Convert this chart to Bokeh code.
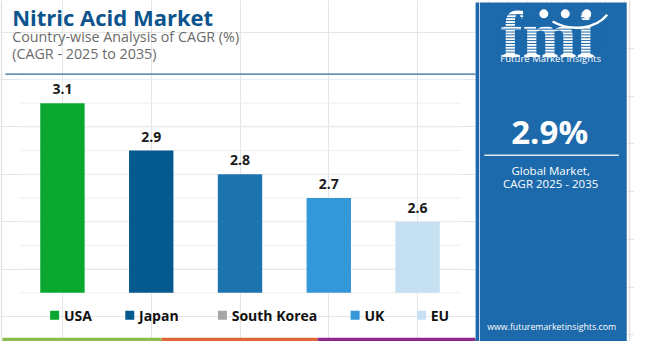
from bokeh.plotting import figure
from bokeh.models import Range1d, FactorRange, ColumnDataSource
from bokeh.layouts import row
from bokeh.embed import file_html
from bokeh.resources import INLINE
from bokeh.core.properties import value

# ---------------- data ----------------
TITLE = "Nitric Acid Market"
SUBTITLE_1 = "Country-wise Analysis of CAGR (%)"
SUBTITLE_2 = "(CAGR - 2025 to 2035)"
countries = ["USA", "Japan", "South Korea", "UK", "EU"]
cagr = [3.1, 2.9, 2.8, 2.7, 2.6]
value_labels = ["3.1", "2.9", "2.8", "2.7", "2.6"]
bar_colors = ["#0aa831", "#04598f", "#1d73ae", "#3497d7", "#c4e0f1"]
legend_colors = ["#0aa831", "#04598f", "#a6a6a6", "#3497d7", "#c4e0f1"]
grid_ticks = [2.3, 2.4, 2.5, 2.6, 2.7, 2.8, 2.9, 3.0, 3.1, 3.2]
Y_BASE = 2.3          # value at which the value axis (bar baseline) starts
GLOBAL_CAGR = "2.9%"
PANEL_LINE_1 = "Global Market,"
PANEL_LINE_2 = "CAGR 2025 - 2035"
BRAND_LOGO = "fmi"
BRAND = "Future Market Insights"
URL = "www.futuremarketinsights.com"

# ---------------- layout / style ----------------
FONT = "Open Sans"
TITLE_COLOR = "#0d548e"
PANEL = "#1c69ab"
W_LEFT, W_RIGHT, H = 479, 155, 341          # px on the page
REF_SPLIT, REF_W, REF_H = 491, 650, 357     # layout coordinates (reference pixels)
CAT_STEP, CAT_PAD = 91, 18                  # category band width / outer padding (layout units)
PX_PER_UNIT = 248.1                         # layout px per 1.0 of CAGR
BASE_Y = 306                                # layout y of the value-axis baseline
LEGEND_SWATCH_X = [55.5, 132.5, 227.5, 363.5, 431.5]
LEGEND_Y = 329.5


def lx(rx):
    """layout x -> synthetic coordinate of the categorical x range"""
    return (rx - CAT_PAD) / CAT_STEP


def ly(ry):
    """layout y -> value coordinate"""
    return Y_BASE + (BASE_Y - ry) / PX_PER_UNIT


common = dict(output_backend="svg", toolbar_location=None, min_border=0,
              outline_line_color=None, x_axis_location=None, y_axis_location=None,
              background_fill_color="white", border_fill_color="white")

# ---------------- left figure: header, chart, legend ----------------
left = figure(width=W_LEFT, height=H,
              x_range=FactorRange(factors=countries, range_padding=CAT_PAD / CAT_STEP,
                                  range_padding_units="absolute"),
              y_range=Range1d(ly(REF_H), ly(0)), **common)

# faint outer border on the left edge
left.segment(x0=[lx(1)], y0=[ly(0)], x1=[lx(1)], y1=[ly(357)], line_color="#e3e3e3", line_width=1.5)

left.text(x=[lx(12)], y=[ly(17)], text=[TITLE], text_font=value(FONT), text_font_style="bold",
          text_font_size="22px", text_color=TITLE_COLOR, text_baseline="middle")
left.text(x=[lx(12)], y=[ly(37.5)], text=[SUBTITLE_1], text_font=value(FONT),
          text_font_size="14.3px", text_color="#6b6b6b", text_baseline="middle")
left.text(x=[lx(12)], y=[ly(56)], text=[SUBTITLE_2], text_font=value(FONT),
          text_font_size="14.3px", text_color="#6b6b6b", text_baseline="middle")
left.segment(x0=[lx(5)], y0=[ly(77)], x1=[lx(487)], y1=[ly(77)], line_color="#2f6a9b", line_width=1.3)

# gridlines
n = len(grid_ticks)
left.segment(x0=[lx(20)] * n, x1=[lx(472)] * n, y0=grid_ticks, y1=grid_ticks,
             line_color="#eeeeee", line_width=1)

src = ColumnDataSource(dict(country=countries, cagr=cagr, color=bar_colors, label=value_labels))
left.vbar(x="country", top="cagr", bottom=Y_BASE, width=0.5, fill_color="color", line_color=None, source=src)
left.text(x="country", y="cagr", text="label", source=src, text_align="center",
          text_baseline="bottom", y_offset=-9, text_font=value(FONT), text_font_style="bold",
          text_font_size="14px", text_color="#1a1a1a")

# legend
leg_src = ColumnDataSource(dict(x=[lx(v) for v in LEGEND_SWATCH_X],
                                tx=[lx(v + 9.5) for v in LEGEND_SWATCH_X],
                                y=[ly(LEGEND_Y)] * 5, color=legend_colors, name=countries))
left.scatter(x="x", y="y", marker="square", size=9, fill_color="color", line_color=None, source=leg_src)
left.text(x="tx", y="y", text="name", source=leg_src, text_font=value(FONT), text_font_style="bold",
          text_font_size="14px", text_color="#111111", text_baseline="middle")

# bottom strip and left sliver of the side panel
left.quad(left=[lx(2), lx(165), lx(325)], right=[lx(165), lx(325), lx(487)],
          top=[ly(353)] * 3, bottom=[ly(357)] * 3,
          fill_color=["#8bbd4e", "#e0663a", "#8e2a8c"], line_color=None)
left.quad(left=[lx(487)], right=[lx(REF_SPLIT)], top=[ly(2)], bottom=[ly(357)],
          fill_color=PANEL, line_color=None)

# ---------------- right panel ----------------
pan = figure(width=W_RIGHT, height=H, x_range=Range1d(REF_SPLIT, REF_W), y_range=Range1d(REF_H, 0), **common)
pan.quad(left=[REF_SPLIT], right=[642], top=[2], bottom=[357], fill_color=PANEL, line_color=None)
pan.segment(x0=[645], y0=[0], x1=[645], y1=[357], line_color="#e3e3e3", line_width=1.5)
pan.text(x=[561], y=[36], text=[BRAND_LOGO], text_font=value("Liberation Serif"),
         text_font_style="bold", text_font_size="65px", text_color="white",
         text_align="center", text_baseline="middle")
stripe_y = [15 + 3 * i for i in range(14)]
pan.segment(x0=[506] * len(stripe_y), y0=stripe_y, x1=[620] * len(stripe_y), y1=stripe_y,
            line_color=PANEL, line_width=1)
pan.scatter(x=[557, 579, 601], y=[14, 14, 14], size=9, fill_color="white", line_color=None)
pan.bezier(x0=[566], y0=[22], x1=[622], y1=[15], cx0=[585], cy0=[33], cx1=[610], cy1=[30],
           line_color="white", line_width=2.5)
pan.text(x=[564], y=[61], text=[BRAND], text_font=value(FONT), text_font_size="9.6px",
         text_color="white", text_align="center", text_baseline="middle")
pan.text(x=[563], y=[137], text=[GLOBAL_CAGR], text_font=value(FONT), text_font_style="bold",
         text_font_size="33px", text_color="white", text_align="center", text_baseline="middle")
pan.segment(x0=[496], y0=[162], x1=[634], y1=[162], line_color="white", line_alpha=0.85, line_width=1.5)
pan.text(x=[564], y=[178], text=[PANEL_LINE_1], text_font=value(FONT), text_font_size="11.5px",
         text_color="white", text_align="center", text_baseline="middle")
pan.text(x=[564], y=[192], text=[PANEL_LINE_2], text_font=value(FONT), text_font_size="11.5px",
         text_color="white", text_align="center", text_baseline="middle")
pan.text(x=[565], y=[342], text=[URL], text_font=value(FONT), text_font_size="8.8px",
         text_color="white", text_align="center", text_baseline="middle")

page = row(left, pan, spacing=0)
open("out.html", "w").write(file_html(page, INLINE))
